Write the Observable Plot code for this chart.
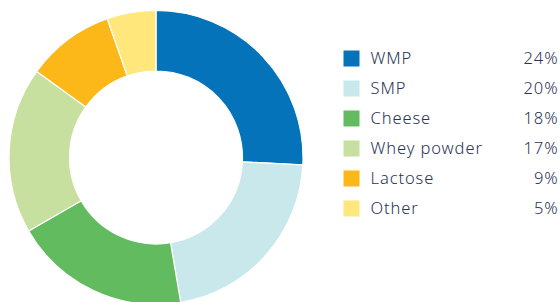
<!DOCTYPE html>
<html>
<head>
<meta charset="utf-8">
<script src="https://cdn.jsdelivr.net/npm/d3@7"></script>
<script src="https://cdn.jsdelivr.net/npm/@observablehq/plot@0.6"></script>
<style>
  html, body { margin: 0; padding: 0; background: #fff; }
  #chart svg { display: block; }
</style>
</head>
<body>
<div id="chart"></div>
<script>
const categories = ["WMP", "SMP", "Cheese", "Whey powder", "Lactose", "Other"];
const shares = [24, 20, 18, 17, 9, 5];
const shareLabels = ["24%", "20%", "18%", "17%", "9%", "5%"];
const colors = ["#0473b9", "#c9e8eb", "#63bb60", "#c7e0a0", "#fcb818", "#ffe77b"];

const data = categories.map((name, i) => ({name, value: shares[i], label: shareLabels[i]}));

const cx = 156, cy = 157.5, outerR = 147, innerR = 86.5;

function donut(index, scales, values, dims) {
  const g = d3.create("svg:g");
  const pie = d3.pie().sort(null).value(d => d.value)(data);
  const arc = d3.arc().innerRadius(innerR).outerRadius(outerR);
  g.attr("transform", `translate(${cx},${cy})`);
  g.selectAll("path")
    .data(pie)
    .join("path")
    .attr("d", arc)
    .attr("fill", d => scales.color(d.data.name))
    .attr("stroke", "#fff")
    .attr("stroke-width", 1.2);
  return g.node();
}

const chart = Plot.plot({
  width: 559,
  height: 302,
  margin: 0,
  style: {fontFamily: "'Noto Sans', sans-serif", background: "#fff", letterSpacing: "0.9px"},
  x: {axis: null},
  y: {type: "point", domain: categories, range: [56, 209], padding: 0, axis: null},
  color: {domain: categories, range: colors},
  marks: [
    donut,
    Plot.dot(data, {y: "name", fill: "name", symbol: "square", r: 9.03, frameAnchor: "left", dx: 351, stroke: null}),
    Plot.text(data, {y: "name", text: "name", frameAnchor: "left", dx: 370, textAnchor: "start", fontSize: 16.5, fill: "#2b3356", fontWeight: 300}),
    Plot.text(data, {y: "name", text: "label", frameAnchor: "right", dx: -1, textAnchor: "end", fontSize: 16.5, fill: "#2b3356", fontWeight: 300})
  ]
});
document.getElementById("chart").appendChild(chart);
</script>
</body>
</html>
